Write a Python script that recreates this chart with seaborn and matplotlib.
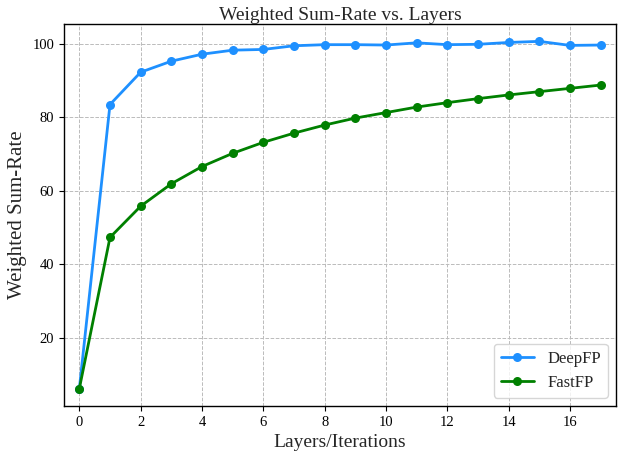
import matplotlib
matplotlib.use("Agg")
import matplotlib.pyplot as plt
import seaborn as sns
import pandas as pd

layers = list(range(18))
deepfp = [6.1, 83.5, 92.3, 95.3, 97.2, 98.3, 98.5, 99.5, 99.8, 99.8, 99.7, 100.3, 99.8, 99.9, 100.4, 100.7, 99.6, 99.7]
fastfp = [6.1, 47.3, 55.8, 61.9, 66.6, 70.2, 73.2, 75.7, 77.9, 79.8, 81.3, 82.8, 84.0, 85.1, 86.1, 87.0, 87.9, 88.8]
series_names = ["DeepFP", "FastFP"]
colors = ["#1E90FF", "#008000"]

df = pd.DataFrame({
    "Layers": layers * 2,
    "Rate": deepfp + fastfp,
    "Method": [series_names[0]] * len(layers) + [series_names[1]] * len(layers),
})

sns.set_style("ticks")
plt.rcParams["font.family"] = ["Liberation Serif", "DejaVu Serif"]
plt.rcParams["mathtext.fontset"] = "stix"

fig = plt.figure(figsize=(6.29, 4.51), dpi=100)
ax = fig.add_axes([64 / 629, 1 - 406 / 451, (616 - 64) / 629, (406 - 24) / 451])

sns.lineplot(data=df, x="Layers", y="Rate", hue="Method", palette=colors,
             marker="o", markersize=6.5, markeredgewidth=0, linewidth=2, ax=ax)

ax.set_xlim(-0.5, 17.5)
ax.grid(True, linestyle="--", color="#bbbbbb", linewidth=0.7)
ax.set_axisbelow(True)
ax.set_xticks(range(0, 18, 2))
ax.set_yticks([20, 40, 60, 80, 100])
ax.tick_params(labelsize=10.5, direction="out", length=3.5, width=0.8, colors="black")
for s in ax.spines.values():
    s.set_color("black")
    s.set_linewidth(1.0)

ax.set_title("Weighted Sum-Rate vs. Layers", fontsize=14, pad=2)
ax.set_xlabel("Layers/Iterations", fontsize=14)
ax.set_ylabel("Weighted Sum-Rate", fontsize=15)

leg = ax.legend(loc="lower right", fontsize=12, frameon=True, fancybox=True, title=None)
leg.get_frame().set_edgecolor("#cccccc")

fig.savefig("out.png", dpi=100)
